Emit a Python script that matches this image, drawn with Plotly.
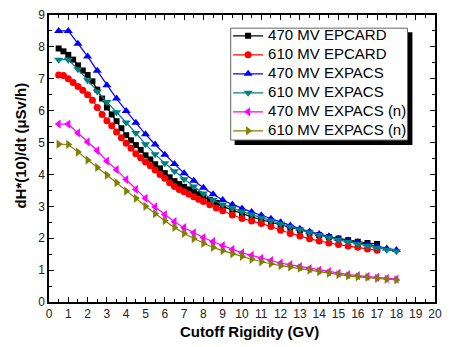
import plotly.graph_objects as go

# ---- data ----
x_epcard = [0.5, 0.75, 1.0, 1.25, 1.5, 1.75, 2.0, 2.25, 2.5, 2.75, 3.0, 3.25, 3.5, 3.75, 4.0,
            4.25, 4.5, 4.75, 5.0, 5.25, 5.5, 5.75, 6.0, 6.25, 6.5, 6.75, 7.0, 7.25, 7.5, 7.75,
            8.0, 8.33, 8.67, 9.0, 9.5, 10.0, 10.5, 11.0, 11.5, 12.0, 12.5, 13.0, 13.5, 14.0,
            14.5, 15.0, 15.5, 16.0, 16.5, 17.0]
epcard_470 = [7.95, 7.86, 7.75, 7.6, 7.42, 7.26, 7.12, 6.92, 6.66, 6.38,
              6.1, 5.88, 5.67, 5.45, 5.23, 5.07, 4.92, 4.77, 4.6, 4.47,
              4.32, 4.19, 4.04, 3.91, 3.79, 3.7, 3.61, 3.53, 3.45, 3.38,
              3.3, 3.2, 3.11, 3.0, 2.88, 2.77, 2.67, 2.58, 2.5, 2.41,
              2.33, 2.25, 2.17, 2.1, 2.04, 1.99, 1.94, 1.89, 1.85, 1.82]
epcard_610 = [7.12, 7.1, 7.0, 6.88, 6.76, 6.64, 6.5, 6.33, 6.1, 5.88,
              5.68, 5.53, 5.33, 5.15, 4.98, 4.82, 4.65, 4.52, 4.39, 4.27,
              4.14, 4.0, 3.88, 3.74, 3.62, 3.53, 3.46, 3.38, 3.3, 3.22,
              3.15, 3.05, 2.95, 2.86, 2.73, 2.62, 2.54, 2.46, 2.37, 2.25,
              2.15, 2.07, 1.98, 1.91, 1.85, 1.8, 1.76, 1.72, 1.66, 1.62]

x_expacs = [0.5, 1.0, 1.5, 2.0, 2.5, 3.0, 3.5, 4.0, 4.5, 5.0, 5.5, 6.0, 6.5, 7.0, 7.5, 8.0,
            8.5, 9.0, 9.5, 10.0, 10.5, 11.0, 11.5, 12.0, 12.5, 13.0, 13.5, 14.0, 14.5, 15.0,
            15.5, 16.0, 16.5, 17.0, 17.5, 18.0]
expacs_470 = [8.5, 8.5, 8.1, 7.7, 7.25, 6.8, 6.38, 5.99, 5.62, 5.26,
              4.94, 4.62, 4.33, 4.04, 3.8, 3.58, 3.38, 3.2, 3.06, 2.93,
              2.82, 2.72, 2.61, 2.5, 2.4, 2.3, 2.21, 2.13, 2.06, 1.98,
              1.93, 1.87, 1.81, 1.74, 1.68, 1.63]
expacs_610 = [7.6, 7.6, 7.3, 6.95, 6.6, 6.27, 5.95, 5.63, 5.3, 4.95,
              4.63, 4.35, 4.1, 3.85, 3.62, 3.4, 3.2, 3.06, 2.94, 2.84,
              2.74, 2.64, 2.55, 2.45, 2.36, 2.27, 2.18, 2.1, 2.02, 1.95,
              1.88, 1.82, 1.76, 1.7, 1.64, 1.59]
expacs_470_n = [5.58, 5.58, 5.3, 5.02, 4.75, 4.42, 4.15, 3.84, 3.53, 3.25,
                2.98, 2.74, 2.52, 2.33, 2.17, 2.02, 1.89, 1.77, 1.65, 1.54,
                1.46, 1.37, 1.3, 1.22, 1.17, 1.11, 1.05, 1.0, 0.95, 0.9,
                0.86, 0.83, 0.8, 0.77, 0.74, 0.72]
expacs_610_n = [4.95, 4.94, 4.7, 4.45, 4.22, 3.98, 3.74, 3.48, 3.25, 3.0,
                2.77, 2.55, 2.34, 2.15, 1.99, 1.84, 1.71, 1.61, 1.51, 1.43,
                1.34, 1.26, 1.2, 1.14, 1.1, 1.06, 1.0, 0.95, 0.9, 0.86,
                0.82, 0.79, 0.77, 0.74, 0.71, 0.69]

names = ["470 MV EPCARD", "610 MV EPCARD", "470 MV EXPACS", "610 MV EXPACS",
         "470 MV EXPACS (n)", "610 MV EXPACS (n)"]
x_title = "Cutoff Rigidity (GV)"
y_title = "dH*(10)/dt (μSv/h)"

series = [
    (x_epcard, epcard_470, names[0], "#000000", "square", 6),
    (x_epcard, epcard_610, names[1], "#FF0000", "circle", 7),
    (x_expacs, expacs_470, names[2], "#0000FF", "triangle-up", 8),
    (x_expacs, expacs_610, names[3], "#008080", "triangle-down", 8),
    (x_expacs, expacs_470_n, names[4], "#FF00FF", "triangle-left", 8),
    (x_expacs, expacs_610_n, names[5], "#808000", "triangle-right", 8),
]

FONT = "Liberation Sans, Arial, sans-serif"

fig = go.Figure()
for xs, ys, nm, col, sym, sz in series:
    fig.add_trace(go.Scatter(
        x=xs, y=ys, name='<span style="font-size:15px">' + nm + '</span>',
        mode="lines+markers",
        line=dict(color=col, width=1.2),
        marker=dict(symbol=sym, size=sz, color=col, line=dict(width=0)),
    ))

axis_common = dict(
    showline=True, linecolor="black", linewidth=1.5, mirror="allticks",
    ticks="inside", ticklen=5, tickwidth=1, tickcolor="black",
    showgrid=False, zeroline=False,
    tickfont=dict(family=FONT, size=12, color="#222222"),
)

fig.update_xaxes(
    range=[0, 20], dtick=1, tick0=0,
    minor=dict(ticks="inside", ticklen=3, dtick=0.5, tickcolor="black", showgrid=False),
    **axis_common,
)
fig.update_yaxes(
    range=[0, 9], dtick=1, tick0=0,
    minor=dict(ticks="inside", ticklen=3, dtick=0.5, tickcolor="black", showgrid=False),
    **axis_common,
)

# axis titles as annotations for exact placement
fig.add_annotation(text="<b>" + x_title + "</b>", xref="paper", yref="paper",
                   x=0.519, y=-0.102, xanchor="center", yanchor="middle",
                   showarrow=False, font=dict(family=FONT, size=15, color="black"))
fig.add_annotation(text="<b>" + y_title + "</b>", xref="paper", yref="paper",
                   x=-0.0763, y=0.5435, xanchor="center", yanchor="middle", textangle=-90,
                   showarrow=False, font=dict(family=FONT, size=15, color="black"))

# legend shadow and frame (drawn as shapes, legend itself transparent)
fig.add_shape(type="rect", xref="paper", yref="paper",
              x0=0.4809, x1=0.9415, y0=0.547, y1=0.9403,
              fillcolor="black", line=dict(width=0), layer="above")
fig.add_shape(type="rect", xref="paper", yref="paper",
              x0=0.4707, x1=0.9288, y0=0.5642, y1=0.9541,
              fillcolor="white", line=dict(width=1, color="#666666"), layer="above")

fig.update_layout(
    width=450, height=347,
    margin=dict(l=49, r=8, t=12, b=45),
    paper_bgcolor="white", plot_bgcolor="white",
    font=dict(family=FONT),
    legend=dict(
        x=0.464, y=0.978, xanchor="left", yanchor="top",
        bgcolor="rgba(0,0,0,0)", borderwidth=0,
        font=dict(family=FONT, size=10.5, color="black"),
        tracegroupgap=0, itemwidth=30,
    ),
)

fig.write_html("out.html", config={"displayModeBar": False},
               post_script="document.body.style.margin='0';")
